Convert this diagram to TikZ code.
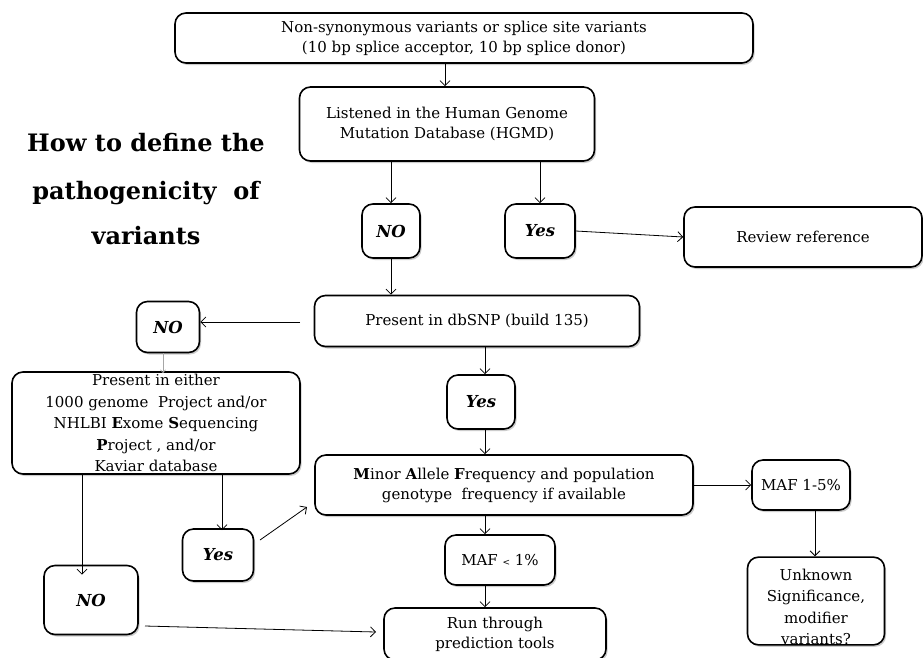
\documentclass[tikz,border=0pt]{standalone}
\usepackage{fontspec}
\setmainfont{DejaVu Serif}
\usetikzlibrary{arrows.meta,shadows}
\tikzset{
  box/.style={draw=black, line width=1.6pt, rounded corners=11pt, fill=white,
    drop shadow={shadow xshift=1.6pt, shadow yshift=-2pt, opacity=0.4},
    align=center, inner sep=0pt, font=\fontsize{15}{20}\selectfont},
  ibox/.style={box, font=\fontsize{16.5}{20}\selectfont\bfseries\itshape},
  arr/.style={-{Straight Barb[length=5pt,width=10pt]}, line width=0.8pt},
  title/.style={font=\fontsize{24}{26}\selectfont\bfseries}
}
\begin{document}
\begin{tikzpicture}[x=1pt,y=-1pt]
\useasboundingbox[fill=white] (0,0) rectangle (923,657);
% nodes
\node[box, minimum width=578pt, minimum height=50pt] (top) at (464,38)
  {Non-synonymous variants or splice site variants\\(10 bp splice acceptor, 10 bp splice donor)};
\node[box, minimum width=295pt, minimum height=74pt] (hgmd) at (447,124)
  {Listened in the Human Genome\\Mutation Database (HGMD)};
\node[ibox, minimum width=58pt, minimum height=54pt] (no1) at (391,231) {NO};
\node[ibox, minimum width=70pt, minimum height=54pt] (yes1) at (540,231) {Yes};
\node[box, minimum width=238pt, minimum height=60pt] (review) at (803,237) {Review reference};
\node[box, minimum width=325pt, minimum height=51pt] (dbsnp) at (477,321) {Present in dbSNP (build 135)};
\node[ibox, minimum width=63pt, minimum height=51pt] (no2) at (168,327) {NO};
\node[box, minimum width=288pt, minimum height=102pt, font=\fontsize{15}{21.5}\selectfont] (big) at (156,423)
  {Present in either\\1000 genome\ \ Project and/or\\NHLBI \textbf{E}xome \textbf{S}equencing\\\textbf{P}roject , and/or\\Kaviar database};
\node[ibox, minimum width=68pt, minimum height=54pt] (yes2) at (481,402) {Yes};
\node[box, minimum width=378pt, minimum height=60pt] (maf) at (504,485)
  {\textbf{M}inor \textbf{A}llele \textbf{F}requency and population\\genotype\ \ frequency if available};
\node[box, minimum width=98pt, minimum height=50pt] (maf15) at (801,485) {MAF 1-5\%};
\node[box, minimum width=137pt, minimum height=82pt, font=\fontsize{15}{21.5}\selectfont] (unk) at (816,601)
  {\rule{0pt}{23pt}Unknown\\Significance,\\modifier\\variants?};
\node[ibox, minimum width=71pt, minimum height=52pt] (yes3) at (218,555) {Yes};
\node[ibox, minimum width=94pt, minimum height=69pt] (no3) at (91,600) {NO};
\node[box, minimum width=110pt, minimum height=50pt] (maf1) at (500,560) {MAF {\small<} 1\%};
\node[box, minimum width=222pt, minimum height=52pt] (run) at (495,634) {Run through\\prediction tools};
% title
\node[title] (t1) at (146,143) {How to define the};
\node[title] (t2) at (146,193) {pathogenicity\ \ of};
\node[title] (t3) at (146,236) {variants};
% helper coordinates
\coordinate (xa) at (445,0);
\coordinate (xb) at (391,0);
\coordinate (xc) at (540,0);
\coordinate (xd) at (485,0);
\coordinate (xe) at (163,0);
\coordinate (xf) at (82,0);
\coordinate (xg) at (222,0);
\coordinate (xh) at (815,0);
\coordinate (dstart) at (300,322);
\coordinate (ystart) at (260,540);
\coordinate (yend) at (307,507);
\coordinate (nstart) at (145,626);
\coordinate (nend) at (376,632);
% connectors
\draw[arr] (top.south -| xa) -- (hgmd.north -| xa);
\draw[arr] (hgmd.south -| xb) -- (no1.north -| xb);
\draw[arr] (hgmd.south -| xc) -- (yes1.north -| xc);
\draw[arr] (yes1.east) -- (review.west);
\draw[arr] (no1.south -| xb) -- (dbsnp.north -| xb);
\draw[arr] (dstart) -- (no2.east |- dstart);
\draw[-{Straight Barb[length=3pt,width=5pt]}, line width=0.6pt, gray!70] (no2.south -| xe) -- ([yshift=-2pt]big.north -| xe);
\draw[arr] (dbsnp.south -| xd) -- (yes2.north -| xd);
\draw[arr] (yes2.south -| xd) -- (maf.north -| xd);
\draw[arr] (big.south -| xf) -- ([yshift=-10pt]no3.north -| xf);
\draw[arr] (big.south -| xg) -- ([yshift=-2pt]yes3.north -| xg);
\draw[arr] (ystart) -- (yend);
\draw[arr] (maf.east) -- (maf15.west);
\draw[arr] (maf15.south -| xh) -- (unk.north -| xh);
\draw[arr] (maf.south -| xd) -- (maf1.north -| xd);
\draw[arr] (maf1.south -| xd) -- (run.north -| xd);
\draw[arr] (nstart) -- (nend);
\end{tikzpicture}
\end{document}
